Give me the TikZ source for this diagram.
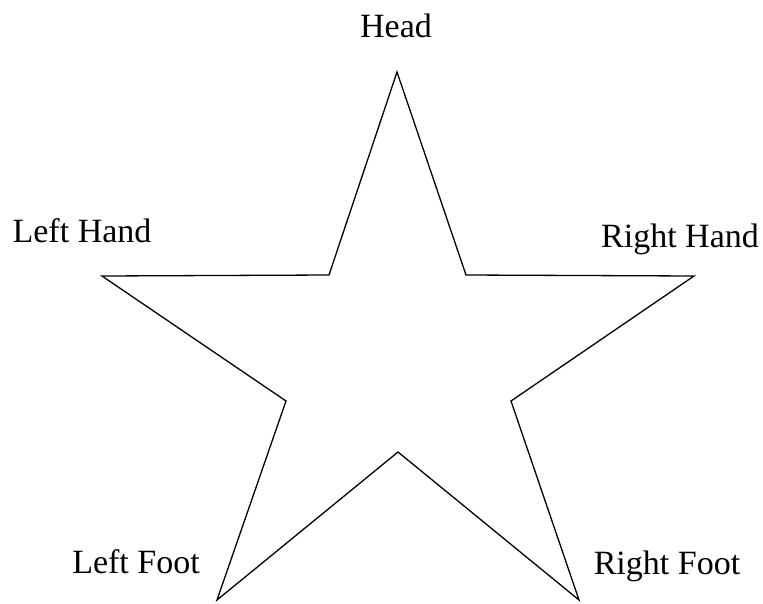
\documentclass[tikz,border=0pt]{standalone}
\usepackage{fontspec}
\setmainfont{Liberation Serif}
\usetikzlibrary{positioning}

\begin{document}
\begin{tikzpicture}[
    x=1pt, y=-1pt,
    label/.style={anchor=base, inner sep=0pt, font=\fontsize{34}{40}\selectfont},
    outline/.style={draw, line width=1.3pt, line join=miter}
]
    \useasboundingbox (0,0) rectangle (763,603);

    % star corners
    \coordinate (head) at (397,72);
    \coordinate (ihr) at (466,275);
    \coordinate (rhand) at (694,276);
    \coordinate (irf) at (511,401);
    \coordinate (rfoot) at (579,600);
    \coordinate (ifoot) at (398,452);
    \coordinate (lfoot) at (217,600);
    \coordinate (ilf) at (286,401);
    \coordinate (lhand) at (102,276);
    \coordinate (ihl) at (329,275);

    \draw[outline] (head) -- (ihr) -- (rhand) -- (irf) -- (rfoot) -- (ifoot)
        -- (lfoot) -- (ilf) -- (lhand) -- (ihl) -- cycle;

    \node[label] (headtxt) at (396,37) {Head};
    \node[label] (lhandtxt) at (82,242) {Left Hand};
    \node[label] (rhandtxt) at (680,247) {Right Hand};
    \node[label] (lfoottxt) at (136,573) {Left Foot};
    \node[label] (rfoottxt) at (667,574) {Right Foot};
\end{tikzpicture}
\end{document}
